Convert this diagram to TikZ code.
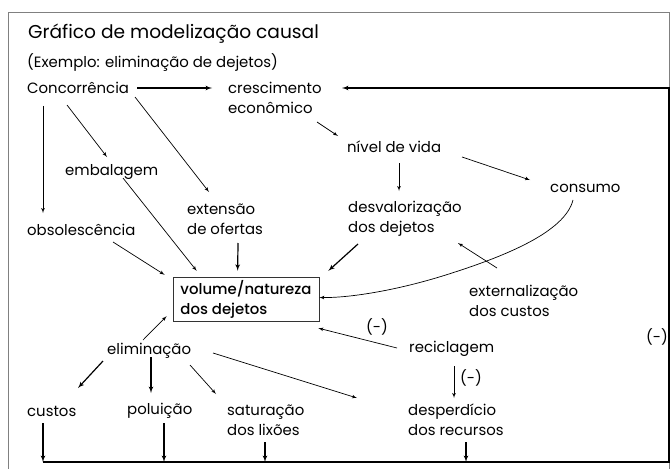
\documentclass[tikz,border=0pt]{standalone}
\usepackage{fontspec}
\setmainfont{Poppins}[BoldFont={* Medium}]
\usetikzlibrary{arrows,calc}

\begin{document}
\begin{tikzpicture}
                [x=1pt,y=-1pt,
                word/.style={anchor=west,inner sep=0pt,align=left,font=\fontsize{14.9}{20}\selectfont},
                edge/.style={->,> = latex',line width=0.7pt},
                heavy/.style={edge,line width=1.2pt}
                ]
            \useasboundingbox (0,0) rectangle (671,468);
            \draw[gray,line width=0.8pt] (8,470) -- (8,12) -- (669,12) -- (669,470);
            \node[anchor=west,inner sep=0pt,font=\fontsize{18.6}{20}\selectfont] (title) at (28,34) {Gráfico de modelização causal};
            \node[word] (sub) at (27,62) {(Exemplo: eliminação de dejetos)};
            \node[word] (conc) at (27,88) {Concorrência};
            \node[word] (cresc) at (228,98) {crescimento\\econômico};
            \node[word] (nivel) at (347,147) {nível de vida};
            \node[word] (consumo) at (550,188) {consumo};
            \node[word] (desval) at (348,219) {desvalorização\\dos dejetos};
            \node[word] (extern) at (469,301) {externalização\\dos custos};
            \node[word] (obsol) at (27,230) {obsolescência};
            \node[word] (embal) at (65,172) {embalagem};
            \node[word] (extens) at (187,219) {extensão\\de ofertas};
            \node[draw=black!80,line width=0.7pt,align=left,minimum width=146pt,minimum height=43pt,
                  font=\fontsize{14.9}{20}\selectfont\bfseries] (box) at (246,299.5) {volume/natureza\\dos dejetos};
            \node[word] (elim) at (107,351) {eliminação};
            \node[word] (recic) at (409,349) {reciclagem};
            \node[word] (desp) at (408,420) {desperdício\\dos recursos};
            \node[word] (custos) at (27,411) {custos};
            \node[word] (polu) at (127,411) {poluição};
            \node[word] (satur) at (227,420) {saturação\\dos lixões};
            \node[word] (m1) at (366,327) {(-)};
            \node[word] (m2) at (460,378) {(-)};
            \node[word] (m3) at (646,337) {(-)};
            \coordinate (fb1) at (43,462);
            \coordinate (fb2) at (669,462);
            \coordinate (fb3) at (669,88);
            % upper part
            \draw[heavy] ($(conc.west)+(110,0)$) -- ($(cresc.west)+(-16,-10)$);
            \draw[edge] ($(cresc.west)+(89,24)$) -- ($(nivel.west)+(-9,-11)$);
            \draw[edge] ($(nivel.west)+(115,10)$) -- ($(consumo.west)+(-20,-8)$);
            \draw[edge] ($(nivel.west)+(52,16)$) -- ($(desval.west)+(51,-28)$);
            \draw[heavy] ($(desval.west)+(10,25)$) -- ($(box.north east)+(9,-6)$);
            \draw[edge] ($(consumo.west)+(23,12)$) .. controls (565,232) and (505,256) .. (452,273)
                .. controls (400,290) and (350,298) .. ($(box.east)+(0,-2)$);
            \draw[edge] ($(extern.west)+(28,-33)$) -- ($(desval.west)+(110,24)$);
            \draw[edge] ($(conc.west)+(16,18)$) -- ($(obsol.west)+(16,-17)$);
            \draw[edge] ($(conc.west)+(40,17)$) -- ($(embal.west)+(42,-15)$);
            \draw[edge] ($(embal.west)+(58,6)$) -- ($(box.north west)+(24,-6)$);
            \draw[edge] ($(conc.west)+(108,9)$) -- ($(extens.west)+(22,-27)$);
            \draw[heavy] ($(extens.west)+(51,24)$) -- ($(box.north west)+(65,-6)$);
            \draw[edge] ($(obsol.west)+(86,12)$) -- ($(box.north west)+(-8,-2)$);
            % lower part
            \draw[edge] ($(elim.west)+(36,-11)$) -- ($(box.south west)+(-6,-6)$);
            \draw[edge] ($(recic.west)+(-12,-1)$) -- ($(box.south east)+(-1,6)$);
            \draw[edge] ($(recic.west)+(45,17)$) -- ($(desp.west)+(46,-22)$);
            \draw[edge] ($(elim.west)+(106,2)$) -- ($(desp.west)+(-51,-22)$);
            \draw[heavy] ($(elim.west)+(-4,10)$) -- ($(custos.west)+(51,-23)$);
            \draw[heavy] ($(elim.west)+(44,6)$) -- ($(polu.west)+(24,-18)$);
            \draw[edge] ($(elim.west)+(83,14)$) -- ($(satur.west)+(-11,-26)$);
            % feedback loop
            \draw[heavy] ($(custos.west)+(16,12)$) -- (fb1);
            \draw[heavy] ($(polu.west)+(37,12)$) -- ($(polu.west)+(37,51)$);
            \draw[heavy] ($(satur.west)+(38,22)$) -- ($(satur.west)+(38,42)$);
            \draw[heavy] ($(desp.west)+(58,22)$) -- ($(desp.west)+(58,42)$);
            \draw[heavy] (fb1) -- (fb2) -- (fb3) -- ($(cresc.west)+(114,-10)$);
            \end{tikzpicture}
\end{document}
